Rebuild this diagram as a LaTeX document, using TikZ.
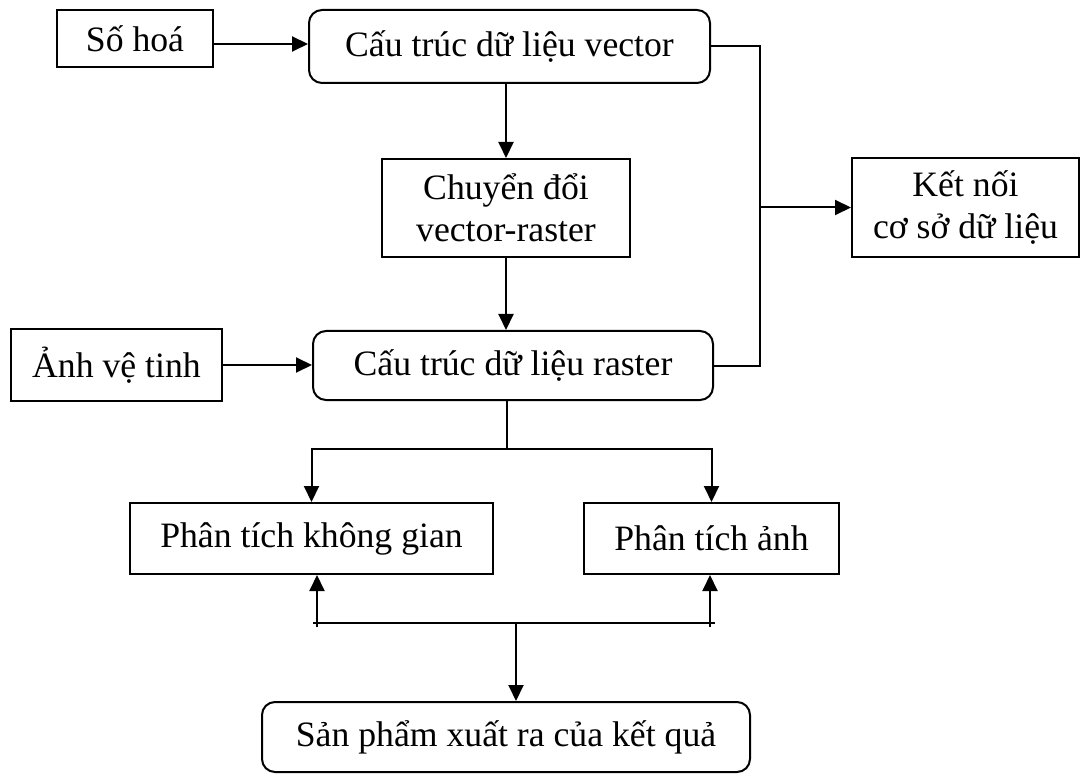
\documentclass[tikz,border=0pt]{standalone}
\usepackage{fontspec}
\setmainfont{Liberation Serif}
\usetikzlibrary{arrows.meta}
\begin{document}
\begin{tikzpicture}[x=1pt,y=-1pt,
  box/.style={draw, line width=2pt, inner sep=0pt, align=center,
              font=\fontsize{35.7}{42}\selectfont},
  rbox/.style={box, rounded corners=13pt},
  link/.style={line width=2pt},
  arr/.style={link, -{Triangle[length=16pt,width=15pt]}}]
\useasboundingbox (0,0) rectangle (1081,775);

% boxes
\node[box,  minimum width=156pt, minimum height=57pt] (soHoa)  at (135,38.5)   {Số hoá};
\node[rbox, minimum width=401pt, minimum height=73pt] (vector) at (509.5,46.5) {Cấu trúc dữ liệu vector};
\node[box,  minimum width=248pt, minimum height=98pt] (cd)     at (506,208)    {Chuyển đổi\\vector-raster};
\node[box,  minimum width=227pt, minimum height=99pt] (kn)     at (965.5,207.5){Kết nối\\cơ sở dữ liệu};
\node[box,  minimum width=211pt, minimum height=72pt] (anh)    at (116.5,365)  {Ảnh vệ tinh};
\node[rbox, minimum width=400pt, minimum height=69pt] (raster) at (513,365.5)  {Cấu trúc dữ liệu raster};
\node[box,  minimum width=363pt, minimum height=71pt] (ptkg)   at (311.5,538.5){Phân tích không gian};
\node[box,  minimum width=255pt, minimum height=71pt] (pta)    at (711.5,538.5){Phân tích ảnh};
\node[rbox, minimum width=488pt, minimum height=70pt] (sp)     at (506,737)    {Sản phẩm xuất ra của kết quả};

% junction points of the connector lines
\coordinate (busR)   at (760,208);
\coordinate (splitR) at (507,449);
\coordinate (busL)   at (313,623);
\coordinate (busE)   at (715,623);
\coordinate (busB)   at (516,623);
\coordinate (tickL)  at (317,627);
\coordinate (tickR)  at (710,627);

% inputs
\draw[arr] ([yshift=-5.5pt]soHoa.east) -- ([yshift=-5.5pt]soHoa.east -| vector.west);
\draw[arr] (anh.east) -- (anh.east -| raster.west);

% vector -> conversion -> raster
\draw[arr] (cd.north |- vector.south) -- (cd.north);
\draw[arr] (cd.south) -- (cd.south |- raster.north);

% database link
\draw[link] (vector.east) -- (vector.east -| busR) -- (raster.east -| busR) -- (raster.east);
\draw[arr] (kn.west -| busR) -- (kn.west);

% analysis branches
\draw[link] (splitR |- raster.south) -- (splitR);
\draw[arr] (splitR) -| (ptkg.north);
\draw[arr] (splitR) -| (pta.north);

% output bus
\draw[link] (busL) -- (busE);
\draw[arr] (tickL) -- (tickL |- ptkg.south);
\draw[arr] (tickR) -- (tickR |- pta.south);
\draw[arr] (busB) -- (busB |- sp.north);
\end{tikzpicture}
\end{document}
